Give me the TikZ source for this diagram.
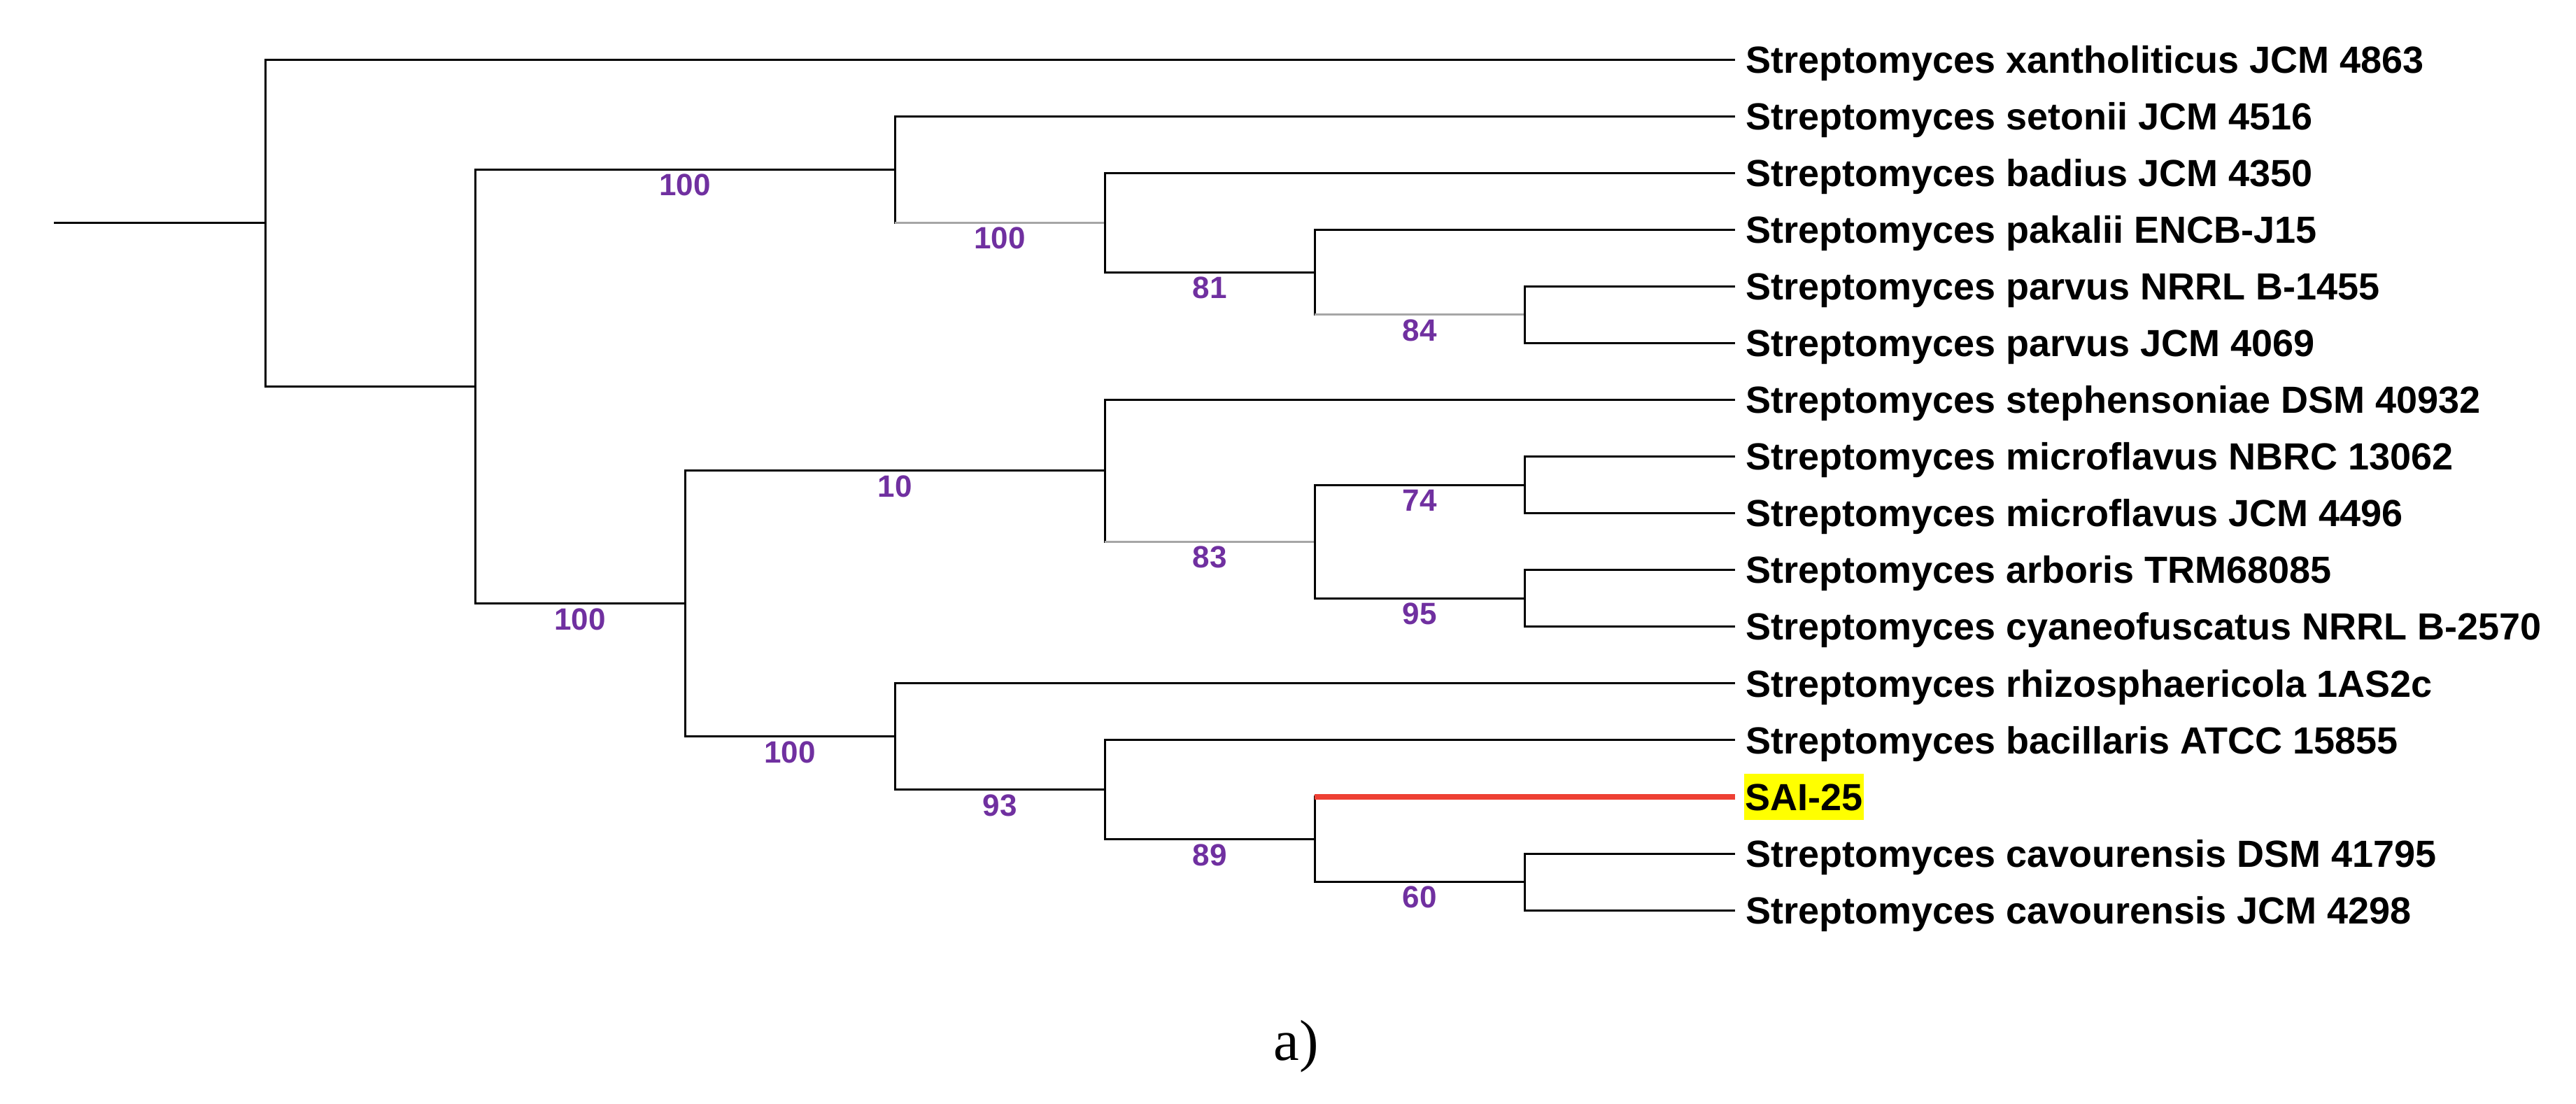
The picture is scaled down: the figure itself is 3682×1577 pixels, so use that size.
\documentclass[tikz,border=0pt]{standalone}
\usepackage{fontspec}
\setmainfont{Liberation Serif}
\newfontfamily\lsans{Liberation Sans}
\definecolor{bspurple}{RGB}{112,48,160}
\definecolor{saired}{RGB}{238,64,52}
\definecolor{hlyellow}{RGB}{255,255,0}
\newcommand{\treeedge}[3]{%
  \draw[br, line cap=rect] (#2) -- (#2 |- #3);
  \draw[#1] (#2 |- #3) -- (#3);}
\begin{document}
\begin{tikzpicture}[x=0.2pt,y=-0.2pt,
  br/.style={line width=0.6pt, draw=black},
  brg/.style={line width=0.6pt, draw=black!35},
  brred/.style={line width=1.6pt, draw=saired},
  leaf/.style={anchor=west, inner sep=0pt, outer xsep=3pt, outer ysep=0pt,
    text height=7.7pt, text depth=0pt,
    font=\lsans\bfseries\fontsize{10.8}{12}\selectfont},
  bs/.style={font=\lsans\bfseries\fontsize{8.8}{10}\selectfont, text=bspurple, inner sep=0pt},
  captext/.style={font=\fontsize{16.5}{18}\selectfont, inner sep=0pt, anchor=base}
]
\useasboundingbox (0,0) rectangle (3682,1577);

% internal nodes
\coordinate (r0) at (77,318.7);
\coordinate (nR) at (379,318.7);
\coordinate (nA) at (679,552.4);
\coordinate (nB) at (1279,242);
\coordinate (nL) at (1579,318);
\coordinate (nM) at (1879,389);
\coordinate (nN) at (2179,449.8);
\coordinate (nC) at (979,862.8);
\coordinate (nD) at (1579,672.8);
\coordinate (nF) at (1879,774.1);
\coordinate (nG) at (2179,693);
\coordinate (nH) at (2179,855.2);
\coordinate (nE) at (1279,1052.8);
\coordinate (nJ) at (1579,1128.8);
\coordinate (nI) at (1879,1199.7);
\coordinate (nK) at (2179,1260.5);

% leaves
\node[leaf] (l1) at (2480,85) {Streptomyces xantholiticus JCM 4863};
\node[leaf] (l2) at (2480,166.1) {Streptomyces setonii JCM 4516};
\node[leaf] (l3) at (2480,247.1) {Streptomyces badius JCM 4350};
\node[leaf] (l4) at (2480,328.2) {Streptomyces pakalii ENCB-J15};
\node[leaf] (l5) at (2480,409.3) {Streptomyces parvus NRRL B-1455};
\node[leaf] (l6) at (2480,490.3) {Streptomyces parvus JCM 4069};
\node[leaf] (l7) at (2480,571.4) {Streptomyces stephensoniae DSM 40932};
\node[leaf] (l8) at (2480,652.5) {Streptomyces microflavus NBRC 13062};
\node[leaf] (l9) at (2480,733.6) {Streptomyces microflavus JCM 4496};
\node[leaf] (l10) at (2480,814.6) {Streptomyces arboris TRM68085};
\node[leaf] (l11) at (2480,895.7) {Streptomyces cyaneofuscatus NRRL B-2570};
\node[leaf] (l12) at (2480,976.8) {Streptomyces rhizosphaericola 1AS2c};
\node[leaf] (l13) at (2480,1057.8) {Streptomyces bacillaris ATCC 15855};
\node[leaf, fill=hlyellow, inner xsep=0.3pt, inner ysep=2.8pt, outer xsep=2.6pt] (l14) at (2480,1138.9) {SAI-25};
\node[leaf] (l15) at (2480,1220) {Streptomyces cavourensis DSM 41795};
\node[leaf] (l16) at (2480,1301) {Streptomyces cavourensis JCM 4298};

% branches
\draw[br] (r0) -- (nR);
\treeedge{br}{nR}{l1.west}
\treeedge{br}{nR}{nA}
\treeedge{br}{nA}{nB}
\treeedge{br}{nA}{nC}
\treeedge{br}{nB}{l2.west}
\treeedge{brg}{nB}{nL}
\treeedge{br}{nL}{l3.west}
\treeedge{br}{nL}{nM}
\treeedge{br}{nM}{l4.west}
\treeedge{brg}{nM}{nN}
\treeedge{br}{nN}{l5.west}
\treeedge{br}{nN}{l6.west}
\treeedge{br}{nC}{nD}
\treeedge{br}{nC}{nE}
\treeedge{br}{nD}{l7.west}
\treeedge{brg}{nD}{nF}
\treeedge{br}{nF}{nG}
\treeedge{br}{nF}{nH}
\treeedge{br}{nG}{l8.west}
\treeedge{br}{nG}{l9.west}
\treeedge{br}{nH}{l10.west}
\treeedge{br}{nH}{l11.west}
\treeedge{br}{nE}{l12.west}
\treeedge{br}{nE}{nJ}
\treeedge{br}{nJ}{l13.west}
\treeedge{br}{nJ}{nI}
\treeedge{brred}{nI}{l14.west}
\treeedge{br}{nI}{nK}
\treeedge{br}{nK}{l15.west}
\treeedge{br}{nK}{l16.west}

% bootstrap values
\node[bs] (b1) at (979,264) {100};
\node[bs] (b2) at (1429,340) {100};
\node[bs] (b3) at (1729,411) {81};
\node[bs] (b4) at (2029,472) {84};
\node[bs] (b5) at (829,885) {100};
\node[bs] (b6) at (1279,695) {10};
\node[bs] (b7) at (1729,796) {83};
\node[bs] (b8) at (2029,715) {74};
\node[bs] (b9) at (2029,877) {95};
\node[bs] (b10) at (1129,1075) {100};
\node[bs] (b11) at (1429,1151) {93};
\node[bs] (b12) at (1729,1222) {89};
\node[bs] (b13) at (2029,1282) {60};

% caption
\node[captext] (caption) at (1853,1515) {a)};
\end{tikzpicture}
\end{document}
